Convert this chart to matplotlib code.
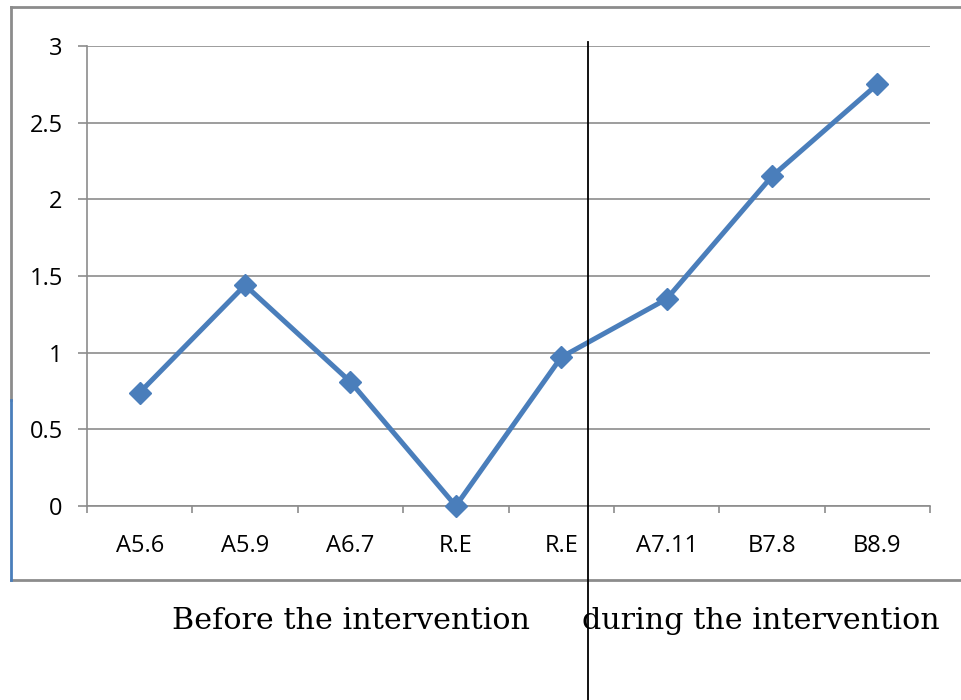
import matplotlib.pyplot as plt
from matplotlib.lines import Line2D

# chart data
categories = ["A5.6", "A5.9", "A6.7", "R.E", "R.E", "A7.11", "B7.8", "B8.9"]
values = [0.74, 1.44, 0.81, 0.0, 0.97, 1.35, 2.15, 2.75]
y_ticks = [0, 0.5, 1, 1.5, 2, 2.5, 3]
y_tick_labels = ["0", "0.5", "1", "1.5", "2", "2.5", "3"]
phase_labels = ["Before the intervention", "during the intervention"]

W, H = 961, 700
fig = plt.figure(figsize=(W / 100, H / 100), dpi=100)


def fx(px):
    return px / W


def fy(py):
    return 1 - py / H


ax = fig.add_axes([fx(87), fy(506), fx(930) - fx(87), fy(46) - fy(506)])

x = list(range(len(categories)))
ax.plot(x, values, color="#4A7EBB", linewidth=3.6, marker="D",
        markersize=11, markerfacecolor="#4A7EBB", markeredgecolor="#4A7EBB",
        zorder=3, clip_on=False)

ax.set_xlim(-0.5, len(categories) - 0.5)
ax.set_ylim(0, 3)
ax.set_yticks(y_ticks)
ax.set_yticklabels(y_tick_labels)
ax.set_xticks(x)
ax.set_xticklabels(categories)
ax.set_xticks([i - 0.5 for i in range(len(categories) + 1)], minor=True)

ax.grid(axis="y", color="#8C8C8C", linewidth=1.2)
ax.set_axisbelow(True)
for side in ["top", "right"]:
    ax.spines[side].set_visible(False)
for side in ["left", "bottom"]:
    ax.spines[side].set_color("#8C8C8C")
    ax.spines[side].set_linewidth(1.2)

ax.tick_params(axis="y", length=6.5, width=1.2, color="#8C8C8C",
               labelsize=17, pad=11)
ax.tick_params(axis="x", which="major", length=0, labelsize=17, pad=20)
ax.tick_params(axis="x", which="minor", length=5, width=1.2, color="#8C8C8C")
for lab in ax.get_xticklabels() + ax.get_yticklabels():
    lab.set_fontfamily("Open Sans")

# outer chart frame
frame = "#8C8C8C"
fig.add_artist(Line2D([fx(11), fx(961)], [fy(7), fy(7)], color=frame, lw=2))
fig.add_artist(Line2D([fx(11), fx(961)], [fy(580), fy(580)], color=frame, lw=2))
fig.add_artist(Line2D([fx(11), fx(11)], [fy(7), fy(400)], color=frame, lw=2))
fig.add_artist(Line2D([fx(11), fx(11)], [fy(400), fy(580)], color="#4A7EBB", lw=2))

# phase divider
fig.add_artist(Line2D([fx(588), fx(588)], [fy(42), fy(700)], color="black", lw=1.3))

fig.text(fx(172), fy(621), phase_labels[0], fontsize=21.7,
         family="DejaVu Serif", va="center", ha="left")
fig.text(fx(582), fy(621), phase_labels[1], fontsize=21.7,
         family="DejaVu Serif", va="center", ha="left")

fig.savefig("out.png", dpi=100)
